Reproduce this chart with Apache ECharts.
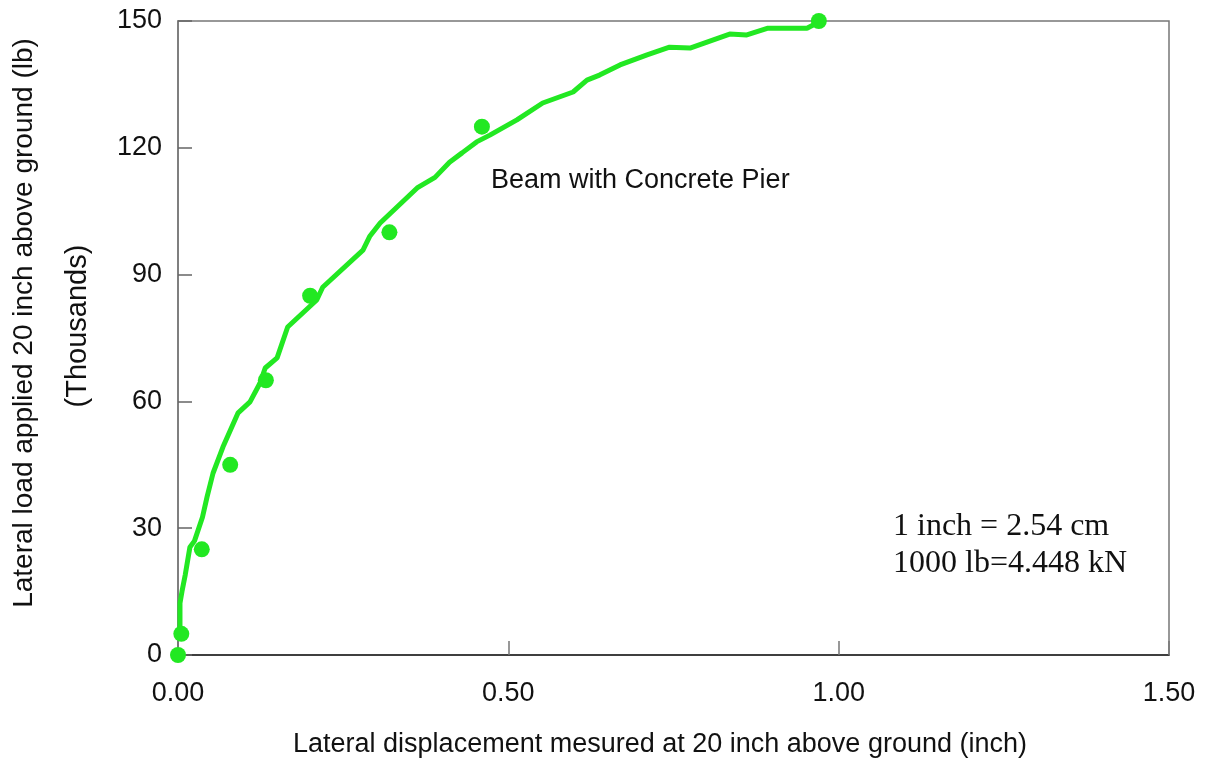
<!DOCTYPE html>
<html>
<head>
<meta charset="utf-8">
<script src="https://cdn.jsdelivr.net/npm/echarts@6/dist/echarts.min.js"></script>
<style>
  html, body { margin: 0; padding: 0; background: #fff; }
  #main { width: 1212px; height: 762px; }
</style>
</head>
<body>
<div id="main"></div>
<script>
// 位移 (inch) 与荷载 (千磅)
const curveX = [0.003, 0.003, 0.006, 0.011, 0.018, 0.025, 0.037, 0.044, 0.053, 0.068, 0.091,
  0.109, 0.124, 0.132, 0.150, 0.166, 0.210, 0.219, 0.280, 0.290, 0.306, 0.362, 0.389,
  0.411, 0.430, 0.452, 0.472, 0.513, 0.552, 0.598, 0.619, 0.638, 0.669, 0.710, 0.744,
  0.775, 0.835, 0.861, 0.893, 0.952, 0.971];
const curveY = [5, 12.3, 15, 19, 25.5, 27, 32.6, 37.4, 43, 49.2, 57.3,
  59.9, 64.3, 67.9, 70.3, 77.6, 84, 87, 95.8, 99, 102.2, 110.5, 113,
  116.6, 118.8, 121.4, 123, 126.6, 130.6, 133.2, 136, 137.2, 139.6, 142, 143.8,
  143.6, 146.9, 146.7, 148.3, 148.3, 149.8];

const pointX = [0.000, 0.005, 0.036, 0.079, 0.133, 0.200, 0.320, 0.460, 0.970];
const pointY = [0, 5, 25, 45, 65, 85, 100, 125, 150];

const xTicks = [0, 0.5, 1.0, 1.5];
const yTicks = [0, 30, 60, 90, 120, 150];

const green = "#22e822";
const sans = "'Liberation Sans', Arial, sans-serif";
const serif = "'Liberation Serif', 'Times New Roman', serif";

const chart = echarts.init(document.getElementById("main"));

chart.setOption({
  animation: false,
  backgroundColor: "#fff",
  grid: {
    left: 178, right: 43, top: 21, bottom: 107,
    outerBoundsMode: "none",
    containLabel: false,
    show: true, borderColor: "#777", borderWidth: 1.5
  },
  xAxis: {
    type: "value",
    min: xTicks[0], max: xTicks[xTicks.length - 1], interval: 0.5,
    axisLine: { show: true, lineStyle: { color: "#222", width: 1.5 } },
    axisTick: { show: true, inside: true, length: 14, lineStyle: { color: "#777", width: 1.5 } },
    splitLine: { show: false },
    axisLabel: {
      margin: 25, fontSize: 27, fontFamily: sans, color: "#111",
      formatter: (v) => v.toFixed(2)
    }
  },
  yAxis: {
    type: "value",
    min: yTicks[0], max: yTicks[yTicks.length - 1], interval: 30,
    axisLine: { show: true, lineStyle: { color: "#777", width: 1.5 } },
    axisTick: { show: true, inside: true, length: 14, lineStyle: { color: "#666", width: 1.5 } },
    splitLine: { show: false },
    axisLabel: { margin: 16, fontSize: 27, fontFamily: sans, color: "#111" }
  },
  graphic: [
    {
      type: "text", x: 660, y: 745,
      style: {
        text: "Lateral displacement mesured at 20 inch above ground (inch)",
        font: "27px " + sans, fill: "#111", align: "center", verticalAlign: "middle"
      }
    },
    {
      type: "text", x: 24, y: 323, rotation: Math.PI / 2,
      style: {
        text: "Lateral load applied 20 inch above ground (lb)",
        font: "28px " + sans, fill: "#111", align: "center", verticalAlign: "middle"
      }
    },
    {
      type: "text", x: 78, y: 326, rotation: Math.PI / 2,
      style: {
        text: "(Thousands)",
        font: "29px " + sans, fill: "#111", align: "center", verticalAlign: "middle"
      }
    },
    {
      type: "text", x: 491, y: 181,
      style: {
        text: "Beam with Concrete Pier",
        font: "27px " + sans, fill: "#111", align: "left", verticalAlign: "middle"
      }
    },
    {
      type: "text", x: 893, y: 527,
      style: {
        text: "1 inch = 2.54 cm",
        font: "32px " + serif, fill: "#111", align: "left", verticalAlign: "middle"
      }
    },
    {
      type: "text", x: 893, y: 564,
      style: {
        text: "1000 lb=4.448 kN",
        font: "32px " + serif, fill: "#111", align: "left", verticalAlign: "middle"
      }
    }
  ],
  series: [
    {
      type: "line",
      data: curveX.map((x, i) => [x, curveY[i]]),
      showSymbol: false,
      symbol: "none",
      lineStyle: { color: green, width: 5 },
      clip: false,
      z: 3
    },
    {
      type: "scatter",
      data: pointX.map((x, i) => [x, pointY[i]]),
      symbolSize: 16,
      itemStyle: { color: green, opacity: 1 },
      clip: false,
      z: 4
    }
  ]
});
</script>
</body>
</html>
